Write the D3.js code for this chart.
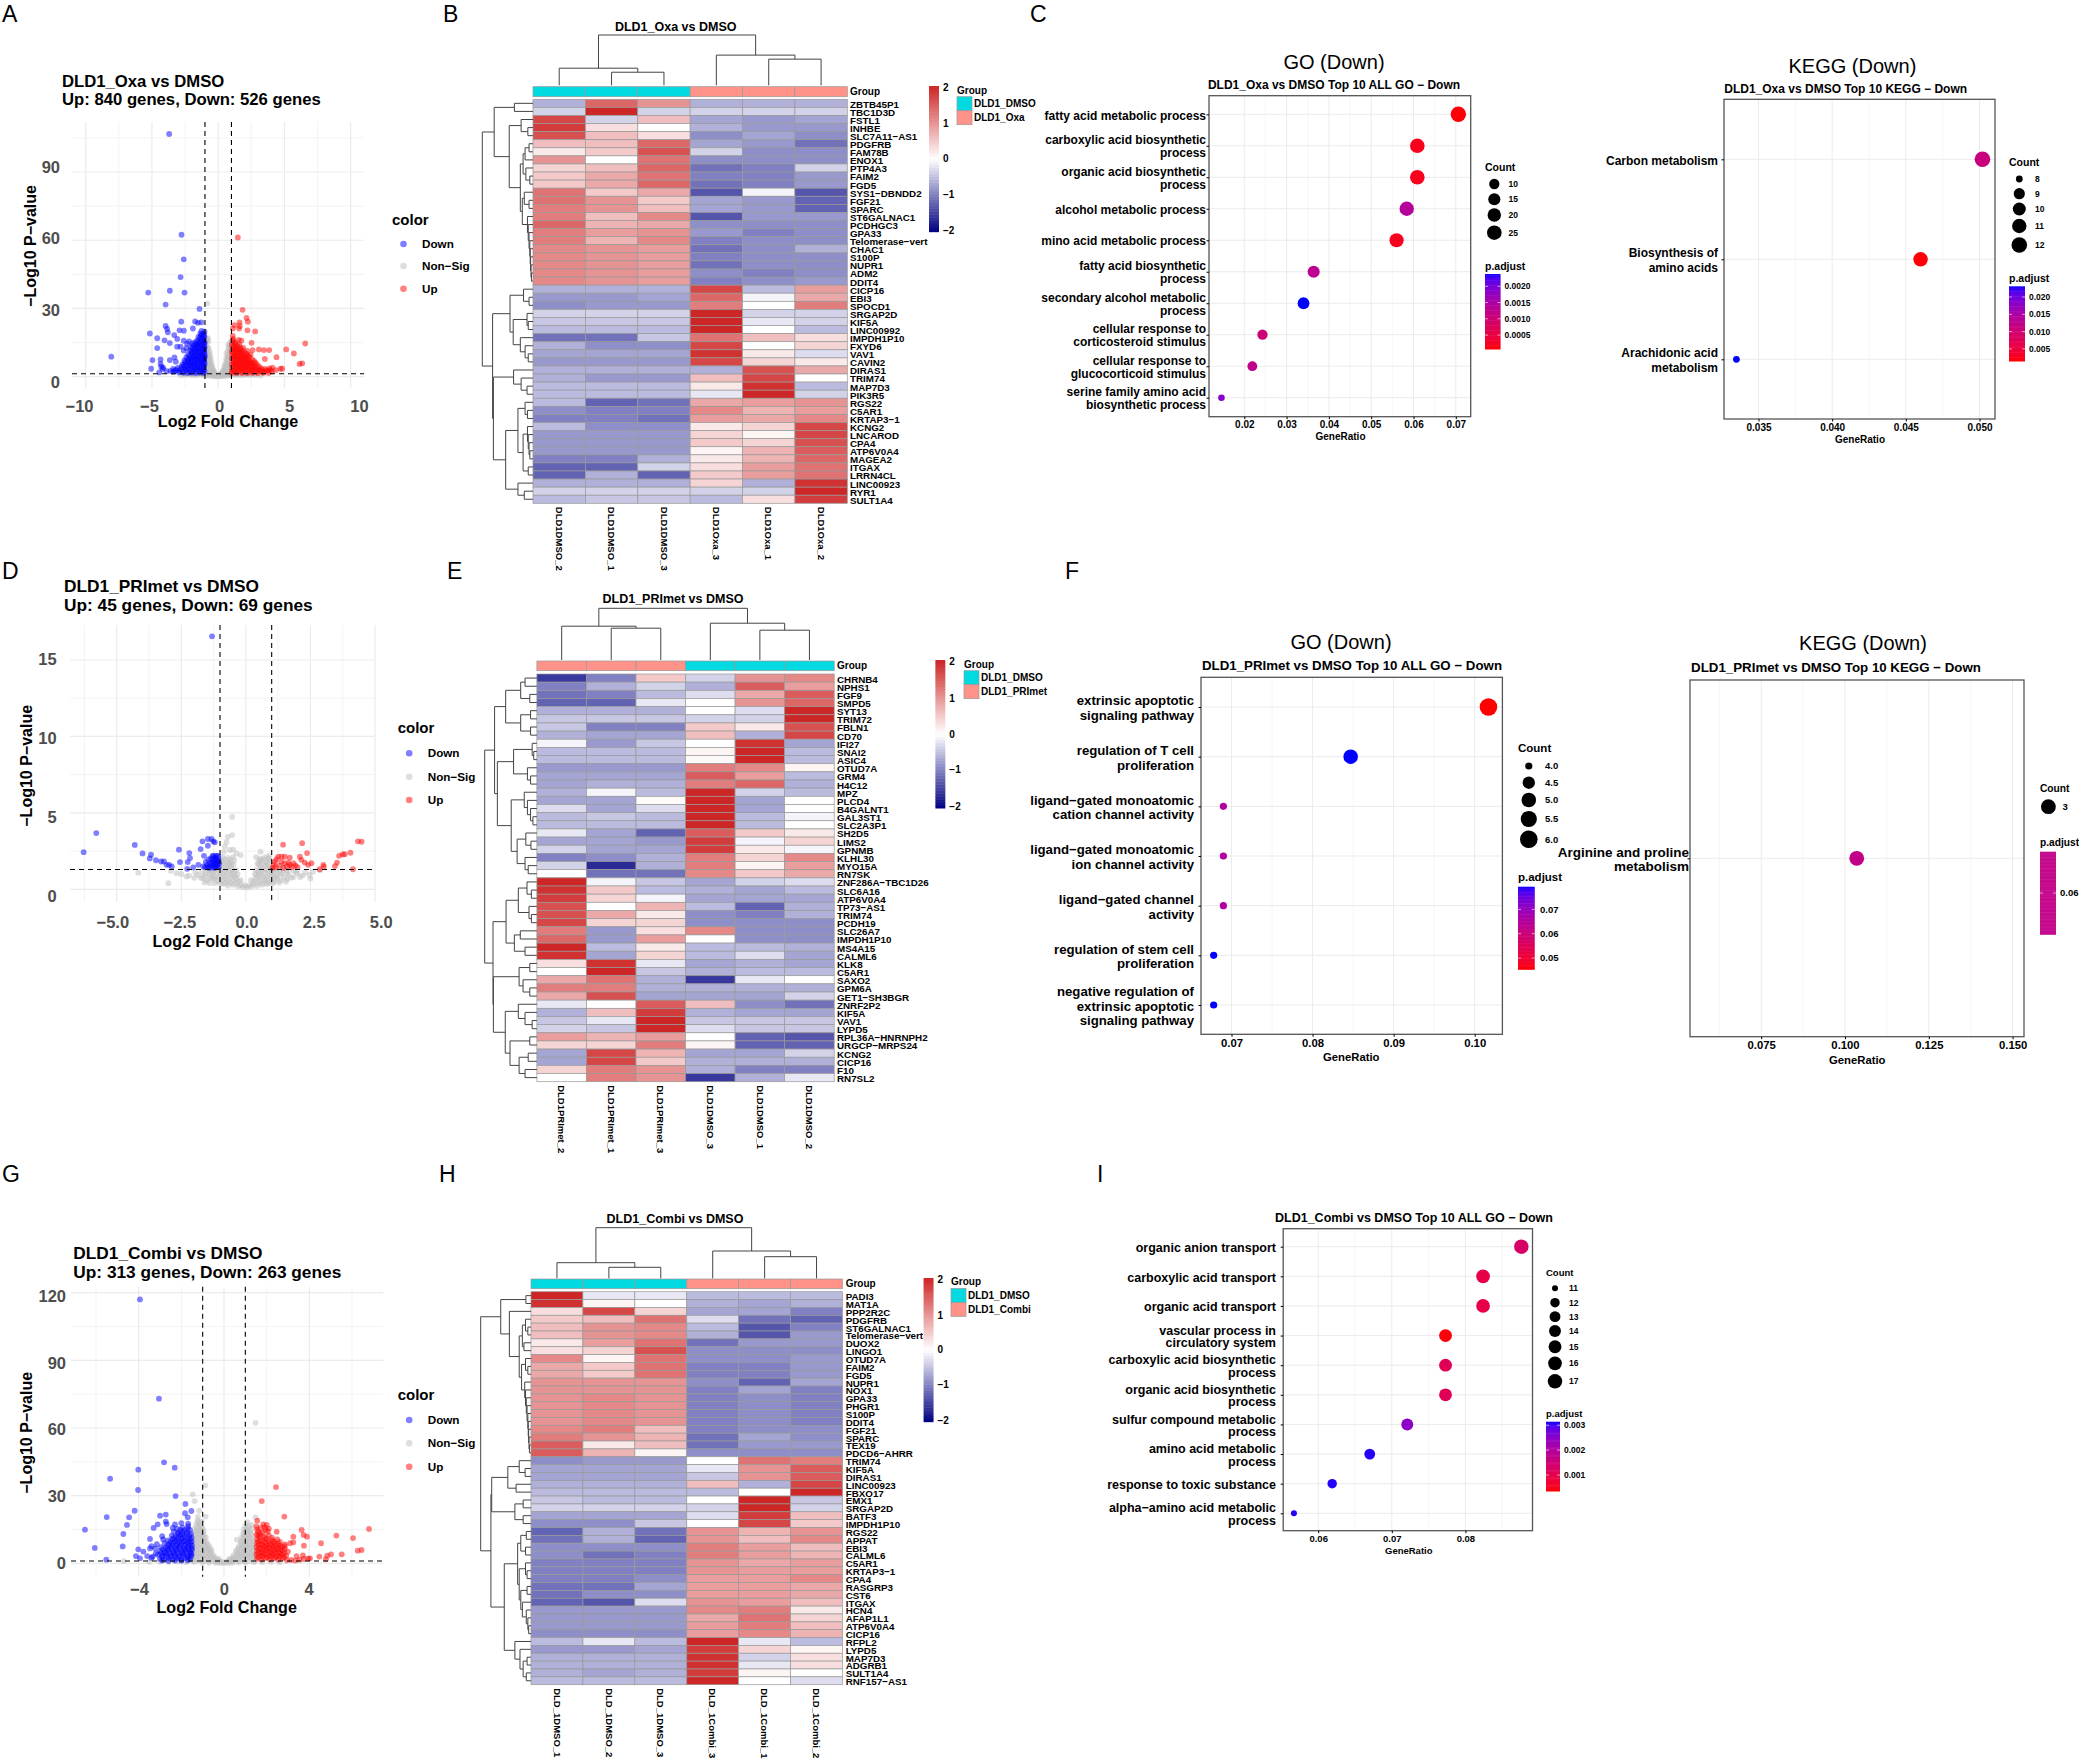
<!DOCTYPE html>
<html>
<head>
<meta charset="utf-8">
<script src="https://cdn.jsdelivr.net/npm/d3@7"></script>
<style>
  body { margin: 0; background: #fff; }
  svg { display: block; }
  text { font-family: "Liberation Sans", Arial, sans-serif; }
</style>
</head>
<body>
<svg id="fig" width="2079" height="1763"></svg>
<script>
// data: volcano points, [log2fc, -log10p]

const aDown = [[-3.7,106.7],[-2.77,62.4],[-2.6,51.6],[-2.84,43.8],[-5.28,37],[-3.65,37.8],[-2.54,37],[-3.97,31.7],[-1.41,29.8],[-2.79,24.2],[-3.97,22.3],[-3.85,21],[-3.8,19.5],[-1.74,24.3],[-1.53,23.7],[-1.28,23.9],[-1.91,21.2],[-2.92,20.4],[-2.59,20.2],[-1.26,20.1],[-5.16,19],[-3.32,18.3],[-4.6,16.9],[-3.09,16.6],[-4.05,16],[-3.65,14.8],[-2.6,15.8],[-4.6,12.6],[-3.1,13.2],[-2.84,13.2],[-8.07,8.8],[-4.96,7.3],[-4.35,7.6],[-3.65,7.3],[-3.3,8.5],[-3.2,6.6],[-4.35,5.6],[-5.06,3.5],
  [-4.2,3.4],[-4.3,4.4],[-4.15,4],[-3.9,2.4],[-3.6,2.6],[-3.4,2.1],[-3.3,2.5],[-4.45,1.9],
  [-3,2.6],[-2.72,2.2],[-2.44,2.9],[-2.18,2.1],[-1.92,2.7],[-1.68,2.3],[-1.42,2.8],[-1.18,2.2],[-1.03,2.6],
  [-3.05,3.9],[-2.78,4.3],[-2.52,4.1],[-2.27,3.8],[-2.02,4.4],[-1.77,3.9],[-1.53,4.2],[-1.28,3.8],[-1.06,4.3],
  [-2.7,5.4],[-2.42,5.9],[-2.15,5.3],[-1.9,5.8],[-1.65,5.4],[-1.4,5.9],[-1.17,5.3],[-1.02,5.7],
  [-2.55,7.2],[-2.28,6.8],[-2.03,7.3],[-1.78,6.9],[-1.52,7.3],[-1.27,6.8],[-1.05,7.2],
  [-2.4,8.6],[-2.13,8.2],[-1.88,8.7],[-1.63,8.3],[-1.38,8.8],[-1.15,8.3],[-1.02,8.7],
  [-2.25,9.9],[-2,10.3],[-1.75,9.8],[-1.5,10.2],[-1.25,9.8],[-1.04,10.3],
  [-2.12,11.6],[-1.87,11.2],[-1.62,11.7],[-1.37,11.2],[-1.13,11.6],
  [-2.05,13.1],[-1.78,12.8],[-1.53,13.2],[-1.27,12.8],[-1.03,13.1],
  [-1.95,14.6],[-1.67,14.3],[-1.42,14.7],[-1.18,14.3],[-1.02,14.8],
  [-1.58,15.9],[-1.33,16.3],[-1.1,15.9],[-1.5,17.5],[-1.25,17.9],[-1.05,17.4],[-1.35,19],[-1.12,18.9],[-1.03,19.8]];
const aDownCore = [[-2.85,3.2],[-2.6,3.4],[-2.35,3.1],[-2.1,3.3],[-1.85,3.1],[-1.6,3.4],[-1.35,3.2],[-1.12,3.1],
  [-2.6,4.9],[-2.35,4.7],[-2.1,5],[-1.85,4.7],[-1.6,4.9],[-1.35,4.6],[-1.1,4.9],
  [-2.5,6.4],[-2.25,6.2],[-2,6.5],[-1.75,6.2],[-1.5,6.5],[-1.25,6.1],[-1.08,6.5],
  [-2.3,7.9],[-2.05,7.7],[-1.8,8],[-1.55,7.7],[-1.3,7.9],[-1.08,7.6],
  [-2.15,9.3],[-1.9,9.1],[-1.65,9.4],[-1.4,9.1],[-1.17,9.4],[-1.02,9.2],
  [-2,10.9],[-1.75,10.7],[-1.5,11],[-1.25,10.6],[-1.05,11],
  [-1.95,12.4],[-1.7,12.2],[-1.45,12.5],[-1.2,12.2],[-1.04,12.3],
  [-1.85,13.8],[-1.6,13.6],[-1.35,13.9],[-1.1,13.6],
  [-1.75,15.2],[-1.5,15],[-1.25,15.3],[-1.05,15.2],[-1.4,16.9],[-1.15,16.8],[-1.25,18.4],[-1.05,18.3],
  [-3.4,3.4],[-3.2,3],[-2.95,1.8],[-2.6,1.7],[-2.3,1.6],[-2,1.7],[-1.7,1.6],[-1.4,1.7],[-1.1,1.6],
  [-2.6,11.5],[-2.4,12.5],[-2.35,14.5],[-2.2,15.5]];
const aUp = [[1.48,61.2],[1.84,29.4],[2.14,25.8],[2.24,24.2],[1.61,23.9],[1.23,22.7],[1.63,22.3],[1.11,21.2],[1.58,21.2],[2.21,20.4],[2.79,19.9],[1.1,17.9],[6.57,14.6],[5.13,12],[5.71,10.2],[6.14,5.6],[6.34,5.9],[4.4,8.6],[3.85,11.7],[3.07,12],[3.45,11.7],[2.52,14.9],[3.52,7.8],[4.83,3.5],[4.7,3.5],
  [1.03,2.4],[1.28,2.1],[1.55,2.6],[1.82,2.2],[2.08,2.7],[2.35,2.2],[2.62,2.6],[2.9,2.1],[3.18,2.5],[3.45,2.2],[3.75,2.6],[4.05,2.3],[4.35,2.9],
  [1.06,3.9],[1.32,3.6],[1.58,4.1],[1.85,3.7],[2.12,4.2],[2.38,3.7],[2.65,4],[2.92,3.6],[3.2,3.9],[3.5,3.4],[3.85,3.6],[4.1,4],
  [1.03,5.2],[1.3,5.6],[1.56,5.1],[1.83,5.6],[2.1,5.2],[2.36,5.7],[2.62,5.1],[2.9,5.5],
  [1.07,6.9],[1.33,6.5],[1.6,7],[1.87,6.6],[2.13,7.1],[2.4,6.6],[2.7,7],
  [1.03,8.2],[1.28,8.6],[1.55,8.1],[1.82,8.6],[2.08,8.2],[2.35,8.7],
  [1.06,9.9],[1.33,9.5],[1.6,10],[1.87,9.6],[2.13,10],[2.45,9.7],
  [1.03,11.2],[1.3,11.6],[1.57,11.1],[1.83,11.5],[2.2,11.3],[2.6,11.7],
  [1.07,12.9],[1.35,12.6],[1.62,13],[1.9,12.7],[1.04,14.2],[1.3,14.6],[1.6,14.2],[1.1,15.8],[1.55,16.2],[1.75,15.9]];
const aUpCore = [[1.15,3],[1.42,3],[1.7,3.1],[1.97,3],[2.25,3.1],[2.52,2.9],[2.78,3.1],[3.05,2.9],[3.3,3],[3.62,2.9],[3.95,3],
  [1.18,4.6],[1.45,4.5],[1.72,4.7],[1.98,4.5],[2.25,4.7],[2.5,4.5],[2.78,4.6],[3.05,4.6],
  [1.18,6.1],[1.45,6],[1.72,6.2],[1.98,6],[2.25,6.2],[2.52,6],[2.8,6.2],
  [1.18,7.6],[1.45,7.5],[1.72,7.7],[1.98,7.5],[2.25,7.7],[2.55,7.6],
  [1.18,9.1],[1.45,9],[1.72,9.2],[1.98,9],[2.25,9.2],
  [1.18,10.6],[1.45,10.5],[1.72,10.7],[2,10.6],[1.18,12],[1.45,12],[1.72,12.1],[1.18,13.6],[1.45,13.5],[1.25,15.2],[1.12,16.6],
  [1.03,1.6],[1.4,1.5],[1.8,1.6],[2.2,1.5],[2.6,1.6],[3,1.5],[3.4,1.6],[3.8,1.6]];
const aNon = [[-0.83,32.2],[-0.78,17],[-0.98,17],[-0.9,16],[-0.82,16.6],[-0.95,13.5],[-0.82,13],[-0.72,12.5],[-0.95,10.5],[-0.82,10],[-0.7,9.8],[-0.6,9],[-0.93,7.8],[-0.78,7.2],[-0.64,6.8],[-0.52,6],[-0.9,5],[-0.75,4.6],[-0.6,4.3],[-0.47,3.9],[-0.38,3.2],[-0.92,2.6],[-0.78,2.2],[-0.64,2.1],[-0.5,1.9],[-0.36,1.7],[-0.26,1.5],[-0.18,1],
  [-2.8,0.6],[-2.4,0.8],[-2,0.7],[-1.7,0.6],[-1.4,0.9],[-1.1,0.7],[-0.9,0.5],[-0.7,0.4],[-0.5,0.3],[-0.3,0.2],[-0.15,0.2],[0,0.1],[0.15,0.2],[0.3,0.3],[0.5,0.3],[0.7,0.5],[0.9,0.6],[1.1,0.7],[1.4,0.8],[1.7,0.7],[2,0.7],[2.4,0.8],[2.8,0.7],[3.2,0.5],
  [0.97,15.5],[0.9,14],[0.8,13],[0.95,11.5],[0.82,10.5],[0.7,9.5],[0.92,8.5],[0.78,7.8],[0.65,7],[0.55,6],[0.9,5.5],[0.76,5],[0.62,4.4],[0.5,3.9],[0.4,3],[0.93,2.8],[0.78,2.4],[0.64,2.1],[0.5,1.8],[0.36,1.6],[0.26,1.4],[0.18,0.9]];
const aNonCore = [[-0.88,15],[-0.75,15.5],[-0.88,12],[-0.76,11.4],[-0.64,10.8],[-0.88,9.2],[-0.76,8.6],[-0.65,8.2],[-0.55,7.4],[-0.84,6.4],[-0.7,5.8],[-0.58,5.4],[-0.46,4.8],[-0.84,3.8],[-0.7,3.4],[-0.56,3.2],[-0.42,2.6],[-0.3,2.3],[-0.84,1.5],[-0.7,1.2],[-0.56,1.1],[-0.42,1],[-0.3,0.9],[-0.88,1],[-1.1,1.1],
  [-2.6,1],[-2.2,1.1],[-1.9,1],[-1.6,1.1],[-1.3,1.2],[1.3,1.1],[1.6,1.1],[1.9,1],[2.2,1.1],[2.6,1],
  [0.88,14.8],[0.76,14],[0.86,12.2],[0.74,11.4],[0.62,10.4],[0.86,9.2],[0.72,8.6],[0.6,8],[0.84,6.4],[0.7,5.9],[0.58,5.2],[0.46,4.6],[0.84,3.9],[0.7,3.4],[0.56,3.1],[0.42,2.5],[0.3,2.2],[0.84,1.5],[0.7,1.2],[0.56,1.1],[0.42,1],[0.3,0.9],[0.9,1]];

const dDown = [[-1.31,16.55],[-5.79,3.68],[-6.28,2.43],[-4.3,2.9],[-4,2.35],[-3.67,2.26],[-3.72,2.02],[-3.48,1.9],[-3.28,1.82],[-3.17,1.82],[-3.07,1.6],[-2.97,1.6],[-2.87,1.49],[-2.59,2.59],[-2.55,1.78],[-2.19,2.37],[-2.16,2.04],[-2.25,1.78],[-2.27,1.34],[-2.04,1.43],[-1.84,1.6],[-1.75,2.63],[-1.68,3.14],[-1.47,3.29],[-1.33,3.29],[-1.26,3.14],[-1.2,3.07],[-1.47,2.85],[-1.62,2.19],[-1.26,2.2],[-1.16,2.2],[-1.07,2.2],
  [-1.65,1.5],[-1.55,1.8],[-1.48,1.45],[-1.4,1.7],[-1.35,2],[-1.3,1.45],[-1.25,1.75],[-1.2,2.05],[-1.17,1.5],[-1.12,1.8],[-1.08,2.1],[-1.05,1.45],[-1.03,1.7],[-1.45,1.95],[-1.58,1.45],[-1.22,1.4],[-1.1,1.6],[-1.38,1.55],[-1.28,1.9],[-1.15,1.95],
  [-1.5,1.6],[-1.42,1.4],[-1.33,1.75],[-1.27,1.55],[-1.18,1.65],[-1.13,1.45],[-1.06,1.9],[-1.3,2.15],[-1.2,1.85],[-1.1,1.75]];
const dUp = [[1.44,2.92],[2.18,3.02],[2.37,2.37],[4.34,3.14],[4.48,3.11],[4.05,2.39],[3.83,2.3],[3.75,2.28],[3.61,2.19],[3.53,1.75],[3.45,1.52],[4.15,1.31],[3.02,1.47],[3,1.6],[2.86,1.31],[2.54,1.71],[2.41,1.6],[2.28,1.75],[2.15,1.93],[2.09,2.13],[1.7,2.07],[1.51,2.13],[1.38,2.13],[1.25,2.13],
  [1.03,1.4],[1.08,1.6],[1.12,1.8],[1.18,1.95],[1.15,1.45],[1.3,1.55],[1.45,1.4],[1.5,1.7],[1.6,1.5],[1.7,1.6],[1.78,1.45],[1.85,1.7],[1.92,1.55],[2,1.45],[1.65,1.75],[1.38,1.8]];
const dNon = [[-0.53,4.74],[-0.53,3.55],[-0.7,3.43],[-0.75,3.1],[-0.81,2.8],[-0.85,2.45],[-0.62,2.57],[-0.49,2.6],[-0.36,2.35],[-0.2,2.24],[0.57,2.46],[0.9,2.19],[-3,0.4],[-4.16,1.09],[-2.68,1.05],[-2.3,0.83],[-2.2,0.9],[-2.5,1],[-2.9,1.2],[2.47,0.94],[2.6,1.15],[2.3,1.1],[2.5,0.7],[2.87,1.25],
  [-0.9,0.35],[-0.7,0.25],[-0.5,0.3],[-0.3,0.2],[-0.12,0.15],[0.05,0.12],[0.22,0.2],[0.42,0.22],[0.62,0.3],[0.82,0.35],[1.05,0.4],
  [-1.75,0.75],[-1.5,0.6],[-1.3,0.7],[-1.1,0.55],[-0.88,0.62],[-0.68,0.55],[-0.47,0.6],[-0.27,0.52],[0.3,0.5],[0.5,0.58],[0.7,0.6],[0.9,0.58],[1.12,0.7],[1.35,0.6],[1.6,0.65],[1.85,0.8],
  [-1.85,0.95],[-1.6,0.9],[-1.4,1],[-1.2,0.85],[-1,0.95],[-0.8,0.88],[-0.6,0.92],[-0.4,0.85],[0.42,0.88],[0.6,0.92],[0.8,0.85],[1,0.95],[1.2,0.9],[1.4,1],[1.65,0.95],[2,1.05],
  [-1.7,1.15],[-1.45,1.25],[-1.25,1.15],[-1.05,1.25],[-0.85,1.2],[-0.65,1.25],[-0.47,1.15],[0.48,1.15],[0.68,1.25],[0.88,1.2],[1.08,1.2],[1.3,1.2],[1.55,1.25],[1.85,1.2],
  [-0.95,1.55],[-0.75,1.5],[-0.58,1.55],[0.55,1.5],[0.75,1.55],[0.92,1.5],[-0.95,1.85],[-0.75,1.8],[-0.58,1.75],[0.45,1.7],[0.6,1.85],[0.8,1.8],[0.92,1.9],[-0.9,2.1],[-0.7,2.05],[-0.5,2.1],[0.4,2.1],[0.55,2],[0.75,2.1]];
const dNonCore = [[-1.6,0.45],[-1.4,0.42],[-1.2,0.4],[-1,0.42],[-0.8,0.4],[-0.6,0.42],[-0.4,0.38],[-0.2,0.3],[-0.05,0.25],[0.12,0.25],[0.3,0.35],[0.5,0.4],[0.7,0.42],[0.9,0.42],[1.1,0.5],[1.3,0.45],[1.55,0.5],
  [-2,0.75],[-1.65,0.72],[-1.4,0.75],[-1.2,0.72],[-1,0.75],[-0.78,0.72],[-0.58,0.76],[-0.38,0.7],[-0.2,0.6],[0.2,0.6],[0.38,0.72],[0.58,0.75],[0.78,0.72],[1,0.76],[1.22,0.75],[1.48,0.78],[1.75,0.75],[2.1,0.8],
  [-1.95,1.1],[-1.55,1.05],[-1.3,1.02],[-1.1,1.08],[-0.9,1.04],[-0.7,1.06],[-0.5,1],[-0.32,0.98],[0.35,1],[0.52,1.02],[0.72,1.05],[0.92,1.03],[1.12,1.05],[1.35,1.06],[1.6,1.1],[1.95,1.15],[2.2,0.9],
  [-1.55,1.38],[-1.35,1.32],[-1.15,1.36],[-0.95,1.33],[-0.75,1.35],[-0.55,1.32],[-0.38,1.25],[0.4,1.25],[0.6,1.35],[0.8,1.33],[0.98,1.35],[1.2,1.33],[1.45,1.38],[1.7,1.35],
  [-0.85,1.66],[-0.65,1.65],[-0.48,1.62],[0.5,1.62],[0.68,1.66],[0.85,1.68],[-0.85,1.96],[-0.62,1.92],[-0.45,1.9],[0.52,1.88],[0.68,1.98],[0.88,2.02]];

const gDown = [[-3.94,117],[-3.05,73],[-2.81,44.8],[-2.31,42.4],[-4.02,41.5],[-5.34,37.5],[-4.03,32.5],[-2.27,29.8],[-1.81,26.3],[-1.53,23.2],[-4.19,23.3],[-5.5,20.5],[-4.45,20.4],[-3,21.1],[-2.73,21.6],[-1.83,22.2],[-1.7,20.4],[-4.55,17],[-3.11,17.3],[-3.3,15.7],[-2.73,18.5],[-2.69,17.4],[-6.52,14.9],[-4.72,13],[-3.47,10.8],[-4.75,7.5],[-6.06,6.8],[-5.52,1.6],[-4.02,6.2],[-4.13,3.2],[-3.78,5.2],[-3.47,6.6],[-3.23,6.6],[-3.94,2.2],[-3.6,3.2],[-3.4,2.4],
  [-3,2],[-2.8,1.6],[-2.6,2.3],[-2.4,1.7],[-2.2,2.2],[-2,1.6],[-1.8,2.3],[-1.6,1.8],
  [-3.1,3.8],[-2.9,3.4],[-2.7,4],[-2.5,3.5],[-2.3,3.9],[-2.1,3.4],[-1.9,4],[-1.7,3.5],[-1.52,3.9],
  [-3,5.5],[-2.8,5.1],[-2.6,5.7],[-2.4,5.2],[-2.2,5.6],[-2,5.1],[-1.8,5.7],[-1.6,5.2],
  [-2.95,7.2],[-2.72,6.8],[-2.5,7.3],[-2.3,6.9],[-2.1,7.3],[-1.9,6.8],[-1.7,7.2],[-1.52,6.8],
  [-2.78,8.9],[-2.58,8.5],[-2.38,9],[-2.18,8.6],[-1.98,9],[-1.78,8.6],[-1.58,8.9],
  [-2.85,10.6],[-2.62,10.2],[-2.42,10.7],[-2.22,10.3],[-2,10.6],[-1.8,10.2],[-1.6,10.7],
  [-2.45,12.3],[-2.25,11.9],[-2.05,12.4],[-1.85,12],[-1.62,12.2],[-2.35,14],[-2.15,13.6],[-1.95,14.1],[-1.72,13.7],
  [-2.4,15.7],[-2.2,15.3],[-1.95,15.8],[-1.7,15.4],[-1.68,16.5],[-2.3,17.2],[-2,17.8],[-1.68,17.6]];
const gDownCore = [[-2.9,2.8],[-2.7,2.9],[-2.5,2.8],[-2.3,2.9],[-2.1,2.7],[-1.9,2.9],[-1.7,2.7],[-1.55,2.9],
  [-2.95,4.6],[-2.75,4.5],[-2.55,4.7],[-2.35,4.5],[-2.15,4.6],[-1.95,4.5],[-1.75,4.7],[-1.55,4.5],
  [-2.85,6.3],[-2.65,6.2],[-2.45,6.4],[-2.25,6.2],[-2.05,6.3],[-1.85,6.2],[-1.65,6.3],[-1.5,6.1],
  [-2.65,7.9],[-2.45,8],[-2.25,7.9],[-2.05,8],[-1.85,7.9],[-1.65,8],[-1.5,7.9],
  [-2.5,9.6],[-2.3,9.7],[-2.1,9.6],[-1.9,9.8],[-1.7,9.6],[-1.52,9.7],
  [-2.35,11.3],[-2.15,11.2],[-1.95,11.4],[-1.72,11.2],[-1.52,11.3],
  [-2.15,13],[-1.95,12.9],[-1.75,13],[-1.55,13],[-2.05,14.8],[-1.85,14.7],[-1.6,14.8],[-3.4,7.6],[-3.2,4.4],[-3.35,2.9],[-3.15,8.5],[-2.9,12],
  [-2.9,1.2],[-2.6,1.1],[-2.3,1.2],[-2,1.1],[-1.7,1.2]];
const gUp = [[2.44,33.8],[1.77,27.6],[2.83,20.7],[1.56,18.9],[6.8,15.2],[5.27,12.3],[6.05,11.2],[3.64,14.8],[3.73,12.6],[3.89,11.8],[3.25,11.8],[3.25,9.3],[4.55,8.9],[3.75,7.8],[6.27,5.6],[6.45,5.9],[5.52,4],[5.02,4],[4.84,3.4],[4.78,1.8],[4.47,3],[4.03,2.2],[2.47,14],[1.84,17.3],[2,17],
  [1.55,2],[1.75,1.6],[1.95,2.3],[2.15,1.7],[2.35,2.2],[2.55,1.6],[2.75,2.2],[2.95,1.3],[3.15,1.5],[3.35,1.2],[3.55,1.6],[3.75,1.9],[3.95,2.1],
  [1.52,3.8],[1.72,3.4],[1.92,4],[2.12,3.5],[2.32,3.9],[2.52,3.4],[2.72,3.9],[2.92,3.4],[3.4,3.2],[3.7,3.5],
  [1.55,5.5],[1.75,5.1],[1.95,5.7],[2.15,5.2],[2.35,5.6],[2.55,5.1],[2.75,5.7],[3,5.2],
  [1.52,7.2],[1.72,6.8],[1.92,7.3],[2.12,6.9],[2.32,7.3],[2.52,6.8],[2.72,7.2],
  [1.55,8.9],[1.75,8.5],[1.95,9],[2.15,8.6],[2.35,9],[2.55,8.6],[2.85,8.4],[3.1,8.9],
  [1.55,10.6],[1.75,10.2],[2,10.7],[2.25,10.3],[2.5,10.6],[1.6,12.3],[1.85,11.9],[2.1,12.4],[1.6,14],[1.8,13.6],[2.05,14.1],[1.72,15.6],[1.9,16],[2.1,15.4]];
const gUpCore = [[1.62,2.8],[1.82,2.9],[2.02,2.7],[2.22,2.9],[2.42,2.7],[2.62,2.9],[2.82,2.7],
  [1.62,4.6],[1.82,4.5],[2.02,4.7],[2.22,4.5],[2.42,4.6],[2.62,4.5],[2.82,4.6],
  [1.62,6.3],[1.82,6.2],[2.02,6.4],[2.22,6.2],[2.42,6.3],[2.62,6.2],[2.85,6.4],
  [1.62,8],[1.82,7.9],[2.02,8],[2.22,7.9],[2.42,8],[2.62,7.8],[2.85,7.6],
  [1.62,9.7],[1.85,9.6],[2.1,9.7],[2.35,9.6],[2.62,9.5],[1.68,11.4],[1.95,11.3],[2.25,11.4],[1.52,12.6],[1.7,13],[1.55,15],[1.95,14.8],[1.52,16.4]];
const gNon = [[1.48,62.3],[-0.88,34.6],[-1.47,30.6],[-1.38,27.6],[-1.16,23.3],[-1.22,20.7],[-0.86,20.7],[1.09,18.3],[1.48,20.4],[-4.7,1],[1,16.5],
  [-1.5,2.4],[-1.3,2],[-1.1,2.5],[-0.9,2],[-0.7,2.3],[-0.5,1.8],[-0.33,1.6],[-0.2,1.2],[-0.1,0.6],
  [-1.48,4.2],[-1.28,3.9],[-1.08,4.3],[-0.88,3.9],[-0.68,4.1],[-0.5,3.6],[-1.5,6],[-1.3,5.8],[-1.1,6.2],[-0.9,5.7],[-0.72,5.9],[-0.58,5.6],
  [-1.45,8],[-1.25,7.7],[-1.05,8.1],[-0.87,7.6],[-0.7,7.7],[-1.42,9.9],[-1.22,9.6],[-1.02,10],[-0.85,9.6],[-1.4,11.8],[-1.2,11.5],[-1,11.9],[-0.85,11.5],
  [-1.4,13.6],[-1.2,13.3],[-1.02,13.8],[-1.38,15.4],[-1.2,15.2],[-1.02,15.6],[-1.3,17.3],[-1.12,17.1],[-1.25,19],[-1.05,18.6],
  [0.1,0.6],[0.2,1.2],[0.33,1.6],[0.5,1.8],[0.7,2.3],[0.9,2],[1.1,2.5],[1.3,2],[1.48,2.4],[0.45,3.5],[0.65,4],[0.85,3.8],[1.05,4.2],[1.25,3.9],[1.45,4.2],
  [0.55,5.5],[0.75,5.9],[0.95,5.6],[1.15,6],[1.35,5.7],[0.7,7.6],[0.9,8],[1.1,7.7],[1.32,8],[0.78,9.6],[1,10],[1.2,9.7],[1.38,10],[0.6,10.5],[0.82,11.5],[1,11.9],[1.2,11.5],
  [0.9,13.4],[1.08,13.8],[1.25,13.4],[0.92,15],[1.1,15.5],[1.3,15.2],
  [-3.5,0.6],[-3,0.7],[-2.6,0.5],[-2.2,0.7],[-1.8,0.5],[-1.4,0.6],[-1,0.4],[-0.7,0.3],[-0.4,0.2],[-0.2,0.15],[0,0.1],[0.2,0.15],[0.4,0.2],[0.7,0.3],[1,0.4],[1.4,0.5],[1.8,0.5],[2.2,0.6],[2.6,0.4]];
const gNonCore = [[-1.4,3.1],[-1.2,3],[-1,3.2],[-0.8,3],[-0.6,2.9],[-0.42,2.6],[-0.25,2],
  [-1.4,5],[-1.2,4.8],[-1,5.1],[-0.8,4.8],[-0.62,4.8],[-1.38,7],[-1.18,6.8],[-0.98,7],[-0.8,6.8],[-0.64,6.6],
  [-1.35,8.9],[-1.15,8.7],[-0.95,8.9],[-0.78,8.7],[-1.32,10.8],[-1.12,10.7],[-0.93,10.8],
  [-1.32,12.7],[-1.12,12.6],[-0.94,12.7],[-1.3,14.5],[-1.1,14.4],[-0.95,14.6],[-1.25,16.4],[-1.05,16.3],[-1.2,18.2],
  [-1.45,1.2],[-1.2,1.1],[-0.95,1.1],[-0.7,1.1],[-0.45,0.9],[-0.28,0.7],
  [0.28,0.7],[0.45,0.9],[0.7,1.1],[0.95,1.1],[1.2,1.1],[1.45,1.2],
  [0.25,2],[0.42,2.6],[0.6,2.9],[0.8,3],[1,3.2],[1.2,3],[1.4,3.1],
  [0.6,4.7],[0.8,4.8],[1,5],[1.2,4.8],[1.4,5],[0.65,6.5],[0.82,6.8],[1,7],[1.2,6.8],[1.4,7],
  [0.8,8.8],[1,8.9],[1.2,8.7],[1.4,8.9],[0.9,10.8],[1.1,10.7],[1.3,10.8],[0.95,12.6],[1.12,12.7],[1.3,12.5],[1.02,14.4],[1.2,14.4],[1.15,16.5],[1.3,17]];

// data: heatmaps

const bGenes = ['ZBTB45P1','TBC1D3D','FSTL1','INHBE','SLC7A11-AS1','PDGFRB','FAM78B','ENOX1','PTP4A3','FAIM2','FGD5','SYS1-DBNDD2','FGF21','SPARC','ST6GALNAC1','PCDHGC3','GPA33','Telomerase-vert','CHAC1','S100P','NUPR1','ADM2','DDIT4','CICP16','EBI3','SPOCD1','SRGAP2D','KIF5A','LINC00992','IMPDH1P10','FXYD6','VAV1','CAVIN2','DIRAS1','TRIM74','MAP7D3','PIK3R5','RGS22','C5AR1','KRTAP3-1','KCNG2','LNCAROD','CPA4','ATP6V0A4','MAGEA2','ITGAX','LRRN4CL','LINC00923','RYR1','SULT1A4'];
const bSamples = ['DLD1DMSO_2','DLD1DMSO_1','DLD1DMSO_3','DLD1Oxa_3','DLD1Oxa_1','DLD1Oxa_2'];
const bValues = [[-0.7,1.4,1,-0.7,-0.7,-0.7],[-0.4,2,-0.4,-0.4,-0.4,-0.4],[1.7,-0.4,0.6,-0.8,-0.9,-0.8],[1.8,0.3,0,-0.7,-0.9,-0.9],[1.6,0.6,0.3,-1,-0.8,-1],[0.6,0.6,1.4,-0.8,-0.9,-1.2],[0.2,0.5,1.6,-0.4,-1,-1],[1,0,1.3,-1,-1,-1],[0.4,0.6,1.4,-1.2,-1.1,-0.4],[0.5,0.8,1.3,-1.1,-1.1,-0.9],[0.5,0.8,1.4,-1.2,-1.1,-0.9],[1.3,0.5,0.8,-1.4,-0.1,-1.4],[1.3,1,0.5,-0.8,-0.9,-1.3],[1.2,1,0.6,-0.8,-0.9,-1.3],[1.2,0.6,1.1,-1.4,-0.9,-0.9],[1.4,0.7,0.8,-1,-1,-1],[1.2,0.9,1,-0.9,-1.1,-1],[1.2,0.7,1.1,-1.1,-1,-1],[1.1,1,0.9,-1.2,-1,-0.7],[1.1,1,0.9,-1.1,-1,-1],[1.1,1,0.9,-1.2,-1,-1],[1.1,1,0.9,-1,-1.1,-1],[1.1,1,0.9,-1.1,-1,-0.9],[-0.7,-0.7,-0.7,1.7,-0.6,0.9],[-0.9,-0.9,-0.8,1.4,-0.1,0.8],[-1,-0.9,-0.9,1.2,0,1.2],[-0.4,-0.4,-0.4,2,-0.4,-0.4],[-0.5,-0.5,-0.5,2,-0.2,-0.4],[-0.6,-0.6,-0.6,2,0,-0.6],[-1.2,-1.2,-0.5,1.3,0.6,0.3],[-0.7,-1,-1,1.7,0,0.4],[-0.8,-0.8,-0.8,1.9,0.2,-0.3],[-0.9,-0.9,-0.9,1.7,0.4,0.2],[-0.7,-0.7,-0.7,-0.7,1.6,0.8],[-0.7,-0.9,-0.9,0.6,1.7,0],[-0.6,-0.6,-0.6,0.2,1.9,-0.6],[-0.6,-0.6,-0.6,-0.2,2,-0.4],[-0.6,-1.3,-1.2,0.8,0.9,1],[-1,-1.1,-1.1,1.1,0.7,0.9],[-1.1,-1.1,-1.2,0.9,0.8,1.1],[-0.6,-1,-1,0.2,0.4,1.7],[-0.9,-0.9,-0.9,0.4,0.1,1.7],[-0.9,-0.9,-0.9,0.5,0.4,1.6],[-0.9,-0.9,-0.9,0.1,0.7,1.5],[-1.1,-1.1,-0.7,0.2,0.7,1.4],[-1.3,-1.3,-0.4,0.3,0.9,1.3],[-1.3,-0.7,-1.3,0.5,0.9,1.3],[-0.7,-0.7,-0.7,0.4,-0.7,1.9],[-0.4,-0.4,-0.4,-0.4,-0.4,2],[-0.6,-0.5,-0.5,-0.6,0.3,1.8]];
const bGroups = ['DLD1_DMSO','DLD1_DMSO','DLD1_DMSO','DLD1_Oxa','DLD1_Oxa','DLD1_Oxa'];
const bColTree = [50,[17,0,[13,0,0]],[30,0,[26,0,0]]];
const bRowTree = [128,[98,[47,0,0],[60,[30,0,[13,0,0]],[32,[25,[20,[10,0,0],0],[18,0,[8,0,0]]],[27,[22,0,[10,0,0]],[14,0,[12,0,[10,0,[8,0,[7,0,[6,0,[5,0,[4,0,0]]]]]]]]]]]],
  [102,[58,[24,0,[10,0,0]],[50,[15,0,[12,0,0]],[32,0,[20,0,[12,0,0]]]]],[100,[49,0,[30,0,[15,0,0]]],[69,[38,[20,0,[14,0,0]],[25,[14,0,[12,0,[10,0,[8,0,0]]]],[12,0,0]]],[38,0,[22,0,0]]]]]];

const eGenes = ['CHRNB4','NPHS1','FGF9','SMPD5','SYT13','TRIM72','FBLN1','CD70','IFI27','SNAI2','ASIC4','OTUD7A','GRM4','H4C12','MPZ','PLCD4','B4GALNT1','GAL3ST1','SLC2A3P1','SH2D5','LIMS2','GPNMB','KLHL30','MYO15A','RN7SK','ZNF286A-TBC1D26','SLC6A16','ATP6V0A4','TP73-AS1','TRIM74','PCDH19','SLC26A7','IMPDH1P10','MS4A15','CALML6','KLK8','C5AR1','SAXO2','GPM6A','GET1-SH3BGR','ZNRF2P2','KIF5A','VAV1','LYPD5','RPL36A-HNRNPH2','URGCP-MRPS24','KCNG2','CICP16','F10','RN7SL2'];
const eSamples = ['DLD1PRImet_2','DLD1PRImet_1','DLD1PRImet_3','DLD1DMSO_3','DLD1DMSO_1','DLD1DMSO_2'];
const eValues = [[-1.6,-1.1,0.5,-0.4,1,1.1],[-1.1,-0.7,-0.4,-0.7,1.5,0.9],[-1.2,-1.1,-0.6,-0.3,0.8,1.5],[-1.3,-1.3,-0.2,0,1,1.4],[-0.7,-0.7,-0.7,0,-0.3,2],[-0.5,-0.5,-0.5,-0.4,-0.4,2],[-0.5,-1.1,-1.1,0.5,0.2,1.6],[-0.7,-0.8,-0.8,0.6,-0.7,1.7],[-0.1,-0.9,-0.5,0,1.9,-0.8],[-0.6,-0.6,-0.6,0.1,2,-0.6],[-0.6,-0.6,-0.6,0.05,2,-0.6],[-0.9,-0.9,-0.9,1.2,1.1,0.1],[-0.8,-0.8,-0.8,1.5,0.9,-0.6],[-0.8,-0.7,-0.7,1.2,1.4,-0.7],[-0.7,-0.1,-0.6,2,-0.4,-0.6],[-0.8,-0.8,0.05,2,-0.8,0],[-0.3,-0.8,-0.3,2,-0.8,0],[-0.6,-0.5,-0.6,2,-0.6,-0.1],[-0.6,-0.6,-0.6,2,-0.6,0],[-0.2,-0.8,-1.3,1.5,0.5,0.2],[-0.8,-0.8,-0.9,1.8,-0.1,0.4],[-0.4,-0.8,-0.8,1.8,0.2,-0.1],[-1.1,-1,-0.7,1.2,0.4,1.1],[-0.4,-1.7,-0.7,1.2,0.1,0.9],[0,-1.2,-1.2,1.1,0.5,0.8],[2,-0.1,-0.5,-0.8,-0.4,-0.3],[1.9,0.5,-0.6,-0.7,-0.8,-0.6],[1.8,0.4,-0.1,-0.8,-0.8,-0.8],[1.6,0,0.7,-0.6,-1.3,-0.7],[1.6,0.8,0.2,-1,-1.1,-0.7],[1.7,0.4,0.4,-1,-1,-1],[1.2,-0.9,0.3,1.1,-1,-1],[1.4,-0.9,0.9,0,-1,-1],[2,-0.6,0.2,-0.6,-0.6,-0.7],[1.9,-0.8,0.4,-0.6,-0.3,-0.8],[0.3,1.9,-0.2,-0.8,-0.7,-0.8],[0,2,-0.5,-0.7,-0.6,-0.6],[0.8,1.3,-0.7,-1.6,-0.2,0],[1.2,1.2,-0.7,-0.7,-0.7,-0.7],[0.8,1.6,-0.8,-0.8,-0.8,-0.4],[-0.2,0,1.5,0.6,-1,-1.2],[-0.7,0.6,1.8,-0.7,-0.8,-0.8],[-0.5,-0.2,2,-0.5,-0.5,-0.5],[-0.4,-0.5,2,-0.3,-0.5,-0.5],[0.9,0.7,0.9,0,-1.3,-1.4],[0.4,0.4,1.2,0.1,-1.3,-1.3],[-0.8,1.7,0.7,-0.8,-0.8,-0.4],[-0.8,1.7,0.5,-0.7,-0.7,-0.7],[0.4,1.2,1,-0.7,-1.1,-1.1],[0,1.2,1,-1.6,-0.7,-0.2]];
const eGroups = ['DLD1_PRImet','DLD1_PRImet','DLD1_PRImet','DLD1_DMSO','DLD1_DMSO','DLD1_DMSO'];
const eColTree = [52,[34,0,[32,0,0]],[37,0,[30,0,0]]];
const eRowTree = [132,[107,[79,[41,[30,0,0],[18,0,0]],[41,[16,0,0],[16,0,0]]],[100,[59,[12,0,[8,0,0]],[24,0,[16,0,0]]],[65,[32,0,[24,0,[16,0,[10,0,0]]]],[50,[28,0,[15,0,0]],[30,0,[22,0,0]]]]]],
  [111,[78,[47,[25,0,[14,0,0]],[20,0,[14,0,0]]],[57,[42,0,0],[30,0,0]]],[110,[45,[18,0,0],[35,0,[18,0,0]]],[80,[47,0,[30,0,[12,0,0]]],[68,[18,0,0],[45,[22,0,0],[30,0,0]]]]]]];

const hGenes = ['PADI3','MAT1A','PPP2R2C','PDGFRB','ST6GALNAC1','Telomerase-vert','DUOX2','LINGO1','OTUD7A','FAIM2','FGD5','NUPR1','NOX1','GPA33','PHGR1','S100P','DDIT4','FGF21','SPARC','TEX19','PDCD6-AHRR','TRIM74','KIF5A','DIRAS1','LINC00923','FBXO17','EMX1','SRGAP2D','BATF3','IMPDH1P10','RGS22','APPAT','EBI3','CALML6','C5AR1','KRTAP3-1','CPA4','RASGRP3','CST6','ITGAX','HCN4','AFAP1L1','ATP6V0A4','CICP16','RFPL2','LYPD5','MAP7D3','ADGRB1','SULT1A4','RNF157-AS1'];
const hSamples = ['DLD_1DMSO_1','DLD_1DMSO_2','DLD_1DMSO_3','DLD_1Combi_3','DLD_1Combi_1','DLD_1Combi_2'];
const hValues = [[2,-0.2,-0.2,-0.6,-0.6,-0.6],[1.9,0.1,0,-0.7,-0.8,-0.7],[0.3,1.7,0.4,-0.8,-0.8,-1.1],[0.5,0.6,1.3,-0.3,-1.2,-1.3],[0.6,1,1.1,-0.6,-1.4,-1.1],[0.6,1,1.1,-0.7,-1.4,-0.9],[0.2,0.9,1.3,-1.2,-0.9,-0.9],[0.3,0.4,1.6,-1,-1,-1],[1.1,0.1,1.3,-1,-1,-0.9],[0.8,0.5,1.3,-1.1,-1.1,-0.9],[0.8,0.5,1.3,-1.1,-1.1,-0.9],[1,1,1,-1,-1.3,-0.8],[1,1,1,-1.1,-0.8,-1.1],[1,1.1,1,-1.1,-1,-1.1],[1,1.1,1,-1.1,-1,-1.1],[1,1.1,1,-1.1,-1,-1.1],[1,1.1,1,-1.1,-1,-1.1],[1.1,1.2,0.6,-1.1,-1,-1],[1.2,1,0.7,-1.2,-0.8,-1],[1.5,0.2,0.6,-1.2,-0.9,-0.9],[1.5,0.7,0.1,-1,-1,-1],[-1,-0.9,-0.9,0,1.3,1.2],[-0.8,-0.8,-0.8,-0.2,1,1.5],[-0.8,-0.8,-0.8,-0.5,1,1.5],[-0.7,-0.7,-0.7,0.6,-0.7,1.7],[-0.6,-0.6,-0.6,-0.6,0,2],[-0.5,-0.6,-0.6,0,2,-0.5],[-0.4,-0.4,-0.4,-0.4,2,-0.4],[-0.8,-0.8,-0.8,-0.3,1.8,0.6],[-1,-1,-0.5,0,1.7,0.5],[-1.3,-0.7,-1.2,1,0.7,1],[-1.2,-0.7,-1.3,1,0.6,1.1],[-1,-1,-1,1.2,0.9,0.6],[-1,-1.2,-1.1,1.2,0.9,0.7],[-1.1,-1.1,-1.1,1,0.8,0.9],[-1.1,-1.1,-1.1,1,0.9,0.9],[-1.1,-1.1,-1,0.9,0.9,1.1],[-1.2,-1.2,-0.8,0.9,0.9,0.8],[-1.2,-1,-1,0.9,0.9,0.8],[-1.3,-1.4,-0.3,1,0.9,0.6],[-0.9,-0.9,-0.9,1.1,1.2,0.2],[-0.9,-0.9,-0.9,0.8,1.3,0.4],[-0.9,-0.9,-0.9,0.9,1.2,0.6],[-1,-1,-1,0.9,1.1,0.7],[-0.6,-0.2,-0.6,2,-0.2,-0.6],[-0.9,-0.9,-0.8,1.8,0.4,0.1],[-0.7,-0.7,-0.7,1.9,-0.4,0.3],[-0.7,-0.7,-0.7,1.9,-0.2,0.3],[-0.7,-0.8,-0.7,1.8,0.1,0],[-0.6,-0.6,-0.6,2,0,-0.3]];
const hGroups = ['DLD1_DMSO','DLD1_DMSO','DLD1_DMSO','DLD1_Combi','DLD1_Combi','DLD1_Combi'];
const hColTree = [50.6,[15.6,0,[11,0,0]],[27.3,0,[21.6,0,0]]];
const hRowTree = [128,[77,[13,0,0],[55,0,[30,[22,[14,0,[8,0,0]],[18,0,0]],[24,[14,0,[8,0,0]],[16,0,[14,0,[12,0,[10,0,[8,0,[7,0,[6,0,[5,0,[4,0,0]]]]]]]]]]]]],
  [102,[100,[59,[30,0,[15,0,0]],[38,0,0]],[41,[20,0,0],[20,0,0]]],[68,[34,[26,[12,0,0],[14,0,0]],[30,[14,0,[10,0,0]],[26,[10,0,0],[22,0,[12,0,[8,0,[6,0,0]]]]]]],[41,0,[28,0,[20,[10,0,0],[12,0,0]]]]]]];

// data: enrichment dot plots

const cGoTerms = ['fatty acid metabolic process','carboxylic acid biosynthetic\nprocess','organic acid biosynthetic\nprocess','alcohol metabolic process','mino acid metabolic process','fatty acid biosynthetic\nprocess','secondary alcohol metabolic\nprocess','cellular response to\ncorticosteroid stimulus','cellular response to\nglucocorticoid stimulus','serine family amino acid\nbiosynthetic process'];
const cGoRatio = [0.0706,0.0609,0.0609,0.0584,0.056,0.0364,0.034,0.0243,0.0219,0.0146];
const cGoCount = [29,25,25,24,23,15,14,10,9,6];
const cGoPadj = [0.0001,0.0002,0.0002,0.0014,0.0002,0.0013,0.00238,0.00104,0.00127,0.00187];
const cKeggTerms = ['Carbon metabolism','Biosynthesis of\namino acids','Arachidonic acid\nmetabolism'];
const cKeggRatio = [0.0502,0.046,0.0335];
const cKeggCount = [12,11,8];
const cKeggPadj = [0.0112,0.0018,0.0231];

const fGoTerms = ['extrinsic apoptotic\nsignaling pathway','regulation of T cell\nproliferation','ligand-gated monoatomic\ncation channel activity','ligand-gated monoatomic\nion channel activity','ligand-gated channel\nactivity','regulation of stem cell\nproliferation','negative regulation of\nextrinsic apoptotic\nsignaling pathway'];
const fGoRatio = [0.1017,0.0847,0.069,0.069,0.069,0.0678,0.0678];
const fGoCount = [6,5,4,4,4,4,4];
const fGoPadj = [0.0454,0.0793,0.0657,0.0657,0.0657,0.0793,0.0793];
const fKeggTerms = ['Arginine and proline\nmetabolism'];
const fKeggRatio = [0.1035];
const fKeggCount = [3];
const fKeggPadj = [0.06];

const iGoTerms = ['organic anion transport','carboxylic acid transport','organic acid transport','vascular process in\ncirculatory system','carboxylic acid biosynthetic\nprocess','organic acid biosynthetic\nprocess','sulfur compound metabolic\nprocess','amino acid metabolic\nprocess','response to toxic substance','alpha-amino acid metabolic\nprocess'];
const iGoRatio = [0.0876,0.0824,0.0824,0.0773,0.0773,0.0773,0.0721,0.067,0.0619,0.0567];
const iGoCount = [17,16,16,15,15,15,14,13,12,11];
const iGoPadj = [0.00133,0.00097,0.00097,0.0004,0.00114,0.00114,0.0025,0.0031,0.0031,0.0031];

// shared helpers

const svg = d3.select('#fig');
const minus = s => String(s).replace(/-/g, '\u2212');

function label(g, x, y, str, size, opts = {}) {
  return g.append('text')
      .attr('x', x)
      .attr('y', y)
      .attr('dy', '0.35em')
      .attr('font-size', size)
      .attr('font-weight', opts.weight || 'bold')
      .attr('fill', opts.fill || '#000')
      .attr('text-anchor', opts.anchor || 'start')
      .attr('transform', opts.rotate ? `rotate(${opts.rotate}, ${x}, ${y})` : null)
      .text(minus(str));
}

function styleAxisText(axisG, size, fill) {
  axisG.selectAll('text')
      .attr('font-family', '"Liberation Sans", Arial, sans-serif')
      .attr('font-weight', 'bold')
      .attr('font-size', size)
      .attr('fill', fill);
}

// volcano plot

const volcanoColors = { Down: '#0000ff', 'Non-Sig': '#bebebe', Up: '#ff0000' };

function volcano(cfg) {
  const g = svg.append('g');
  const x = d3.scaleLinear().domain(cfg.xDomain).range(cfg.xRange);
  const y = d3.scaleLinear().domain(cfg.yDomain).range(cfg.yRange);
  const [left, right, top, bottom] = cfg.panel;

  // grid
  g.selectAll('.minx').data(cfg.xMinor).join('line')
      .attr('x1', d => x(d)).attr('x2', d => x(d)).attr('y1', top).attr('y2', bottom)
      .attr('stroke', '#f0f0f0').attr('stroke-width', 0.8);
  g.selectAll('.maxx').data(cfg.xMajor).join('line')
      .attr('x1', d => x(d)).attr('x2', d => x(d)).attr('y1', top).attr('y2', bottom)
      .attr('stroke', '#ebebeb').attr('stroke-width', 1.2);
  g.selectAll('.miny').data(cfg.yMinor).join('line')
      .attr('y1', d => y(d)).attr('y2', d => y(d)).attr('x1', left).attr('x2', right)
      .attr('stroke', '#f0f0f0').attr('stroke-width', 0.8);
  g.selectAll('.may').data(cfg.yMajor).join('line')
      .attr('y1', d => y(d)).attr('y2', d => y(d)).attr('x1', left).attr('x2', right)
      .attr('stroke', '#ebebeb').attr('stroke-width', 1.2);

  // points
  [['Non-Sig', cfg.non], ['Down', cfg.down], ['Up', cfg.up]].forEach(([key, pts]) => {
    g.append('g').selectAll('circle').data(pts).join('circle')
        .attr('cx', d => x(d[0]))
        .attr('cy', d => y(d[1]))
        .attr('r', 2.9)
        .attr('fill', volcanoColors[key])
        .attr('fill-opacity', 0.5);
  });

  // thresholds
  [-1, 1].forEach(v => {
    g.append('line')
        .attr('x1', x(v)).attr('x2', x(v)).attr('y1', top).attr('y2', bottom)
        .attr('stroke', '#000').attr('stroke-width', 1.1).attr('stroke-dasharray', '5,4');
  });
  g.append('line')
      .attr('x1', left).attr('x2', right).attr('y1', y(cfg.pLine)).attr('y2', y(cfg.pLine))
      .attr('stroke', '#000').attr('stroke-width', 1.1).attr('stroke-dasharray', '5,4');

  // tick labels sit on their own, slightly wider scales
  const lx = d3.scaleLinear().domain(cfg.xDomain).range(cfg.xLabelRange);
  const ly = d3.scaleLinear().domain(cfg.yDomain).range(cfg.yLabelRange);
  const size = 16.5;
  const xAxis = g.append('g')
      .attr('transform', `translate(0, ${cfg.xLabelY - 0.355 * size})`)
      .call(d3.axisBottom(lx).tickValues(cfg.xTicks).tickSize(0).tickPadding(0).tickFormat(d3.format(cfg.xFormat)))
      .call(a => a.select('.domain').remove());
  styleAxisText(xAxis, size, '#4d4d4d');
  const yAxis = g.append('g')
      .attr('transform', `translate(${cfg.yLabelX}, 0)`)
      .call(d3.axisLeft(ly).tickValues(cfg.yTicks).tickSize(0).tickPadding(0))
      .call(a => a.select('.domain').remove());
  styleAxisText(yAxis, size, '#4d4d4d');

  // titles
  label(g, cfg.titleX, cfg.titleY[0], cfg.title[0], cfg.titleSize);
  label(g, cfg.titleX, cfg.titleY[1], cfg.title[1], cfg.titleSize);
  label(g, cfg.xTitle[0], cfg.xTitle[1], 'Log2 Fold Change', 16.1, { anchor: 'middle' });
  label(g, cfg.yTitle[0], cfg.yTitle[1], '-Log10 P-value', 16, { anchor: 'middle', rotate: -90 });

  // legend
  label(g, cfg.legend.x, cfg.legend.titleY, 'color', 15);
  ['Down', 'Non-Sig', 'Up'].forEach((key, i) => {
    g.append('circle')
        .attr('cx', cfg.legend.x + 11.5)
        .attr('cy', cfg.legend.ys[i])
        .attr('r', 3.3)
        .attr('fill', volcanoColors[key])
        .attr('fill-opacity', 0.5);
    label(g, cfg.legend.x + 30, cfg.legend.ys[i], key, 11.7);
  });
}

// heatmap with dendrograms

const heatColor = d3.scaleLinear().domain([-2, 0, 2]).range(['#000080', '#ffffff', '#cd2626']);
// cells read a little lighter than the bar on the blue side
const cellColor = d3.scaleLinear().domain([-2, -1, 0, 2]).range(['#000080', '#8e8ec9', '#ffffff', '#cd2626']);
const groupColor = name => (name === 'DLD1_DMSO' ? '#00dae0' : '#ff9289');

function drawTree(g, tree, leafPos, hScale, horizontal) {
  let leaf = 0;
  const paths = [];
  (function walk(n) {
    if (!n) return { p: leafPos(leaf++), h: 0 };
    const a = walk(n[1]);
    const b = walk(n[2]);
    const hn = hScale(n[0]);
    paths.push(horizontal ?
      `M${hScale(a.h)},${a.p}H${hn}V${b.p}H${hScale(b.h)}` :
      `M${a.p},${hScale(a.h)}V${hn}H${b.p}V${hScale(b.h)}`);
    return { p: (a.p + b.p) / 2, h: n[0] };
  })(tree);
  g.append('path')
      .attr('d', paths.join(''))
      .attr('fill', 'none')
      .attr('stroke', '#444')
      .attr('stroke-width', 1);
}

function heatmap(cfg) {
  const g = svg.append('g');
  const col = d3.scaleBand().domain(cfg.samples).range([cfg.left, cfg.right]);
  const row = d3.scaleBand().domain(cfg.genes).range([cfg.top, cfg.bottom]);

  // group bar
  g.append('g').selectAll('rect').data(cfg.samples).join('rect')
      .attr('x', d => col(d))
      .attr('y', cfg.barTop)
      .attr('width', col.bandwidth())
      .attr('height', cfg.barBottom - cfg.barTop)
      .attr('fill', (d, i) => groupColor(cfg.groups[i]))
      .attr('stroke', '#999')
      .attr('stroke-width', 0.7);
  label(g, cfg.labelX, (cfg.barTop + cfg.barBottom) / 2, 'Group', 10);

  // cells
  const cells = cfg.genes.flatMap((gene, r) => cfg.samples.map((s, c) => ({ gene, s, v: cfg.values[r][c] })));
  g.append('g').selectAll('rect').data(cells).join('rect')
      .attr('x', d => col(d.s))
      .attr('y', d => row(d.gene))
      .attr('width', col.bandwidth())
      .attr('height', row.bandwidth())
      .attr('fill', d => cellColor(d.v))
      .attr('stroke', '#999')
      .attr('stroke-width', 0.7);

  // row and column labels
  cfg.genes.forEach(gene => label(g, cfg.labelX, row(gene) + row.bandwidth() / 2 + 1, gene, 9.8));
  cfg.samples.forEach(s => label(g, col(s) + col.bandwidth() / 2, cfg.bottom + 3.5, s, 9.5, { rotate: 90 }));

  // dendrograms
  drawTree(g, cfg.rowTree, i => row(cfg.genes[i]) + row.bandwidth() / 2,
    d3.scaleLinear().domain([0, cfg.rowTree[0]]).range([cfg.left, cfg.rowRootX]), true);
  drawTree(g, cfg.colTree, i => col(cfg.samples[i]) + col.bandwidth() / 2,
    d3.scaleLinear().domain([0, cfg.colTree[0]]).range([cfg.colBase, cfg.colRootY]), false);

  label(g, cfg.titleX, cfg.titleY, cfg.title, 12.5, { anchor: 'middle' });

  // colour bar
  const [bx0, bx1, by0, by1] = cfg.bar;
  const by = d3.scaleLinear().domain([2, -2]).range([by0, by1]);
  g.append('g').selectAll('rect').data(d3.range(-2, 2, 0.08)).join('rect')
      .attr('x', bx0)
      .attr('y', d => by(d + 0.08))
      .attr('width', bx1 - bx0)
      .attr('height', (by1 - by0) / 50 + 0.5)
      .attr('fill', d => heatColor(d + 0.04));
  [2, 1, 0, -1, -2].forEach(v => label(g, bx1 + 4, by(v) + cfg.barLabelShift * Math.sign(v), v, 10));

  // group legend
  const [lx, ly] = cfg.legend;
  label(g, lx, ly, 'Group', 10);
  cfg.legendNames.forEach((name, i) => {
    g.append('rect')
        .attr('x', lx)
        .attr('y', ly + 6.7 + 14 * i)
        .attr('width', 15)
        .attr('height', 14)
        .attr('fill', groupColor(name))
        .attr('stroke', '#999')
        .attr('stroke-width', 0.7);
    label(g, lx + 17, ly + 13.7 + 14 * i, name, 10);
  });
}

// enrichment dot plot

function dotplot(cfg) {
  const g = svg.append('g');
  const [left, right, top, bottom] = cfg.panel;
  const x = d3.scaleLinear().domain(cfg.xDomain).range(cfg.xRange);
  const y = d3.scalePoint().domain(cfg.terms).range(cfg.yRange);
  const color = d3.scaleLinear().domain(cfg.colorDomain).range(['red', 'blue']).interpolate(d3.interpolateLab);
  // ggplot area scale
  const size = c => cfg.cRange[1] === cfg.cRange[0] ? cfg.rRange[1] :
    cfg.rRange[0] + (cfg.rRange[1] - cfg.rRange[0]) * Math.sqrt((c - cfg.cRange[0]) / (cfg.cRange[1] - cfg.cRange[0]));

  // grid
  g.selectAll('.mn').data(cfg.xMinor).join('line')
      .attr('x1', d => x(d)).attr('x2', d => x(d)).attr('y1', top).attr('y2', bottom)
      .attr('stroke', '#f2f2f2').attr('stroke-width', 0.7);
  g.selectAll('.mj').data(cfg.xTicks).join('line')
      .attr('x1', d => x(d)).attr('x2', d => x(d)).attr('y1', top).attr('y2', bottom)
      .attr('stroke', '#ebebeb').attr('stroke-width', 1);
  g.selectAll('.hz').data(cfg.terms).join('line')
      .attr('x1', left).attr('x2', right).attr('y1', d => y(d)).attr('y2', d => y(d))
      .attr('stroke', '#ebebeb').attr('stroke-width', 1);

  // dots
  g.append('g').selectAll('circle').data(cfg.terms).join('circle')
      .attr('cx', (d, i) => x(cfg.ratio[i]))
      .attr('cy', d => y(d))
      .attr('r', (d, i) => size(cfg.count[i]))
      .attr('fill', (d, i) => color(cfg.padj[i]));

  g.append('rect')
      .attr('x', left).attr('y', top).attr('width', right - left).attr('height', bottom - top)
      .attr('fill', 'none').attr('stroke', '#555').attr('stroke-width', 1.3);

  // axes
  const xAxis = g.append('g')
      .attr('transform', `translate(0, ${bottom})`)
      .call(d3.axisBottom(x).tickValues(cfg.xTicks).tickSize(2.5).tickPadding(2).tickFormat(d3.format(cfg.xFormat)))
      .call(a => a.select('.domain').remove());
  styleAxisText(xAxis, cfg.fs.tick, '#000');
  g.append('g')
      .attr('transform', `translate(${left}, 0)`)
      .call(d3.axisLeft(y).tickSize(2.5).tickFormat(''))
      .call(a => a.select('.domain').remove());
  label(g, cfg.xTitle[0], cfg.xTitle[1], 'GeneRatio', cfg.fs.tick);

  // term labels
  cfg.terms.forEach(term => {
    const lines = term.split('\n');
    lines.forEach((line, i) => {
      const offset = (i - (lines.length - 1) / 2) * cfg.fs.lead + 1;
      label(g, cfg.termX, y(term) + offset, line, cfg.fs.term, { anchor: 'end' });
    });
  });

  if (cfg.heading) label(g, cfg.heading[0], cfg.heading[1], cfg.heading[2], 20, { anchor: 'middle', weight: 'normal' });
  label(g, cfg.subtitle[0], cfg.subtitle[1], cfg.subtitle[2], cfg.fs.sub, { anchor: 'middle' });

  // count legend
  const lg = cfg.legend;
  label(g, lg.x, lg.countY, 'Count', cfg.fs.leg);
  lg.counts.forEach((c, i) => {
    g.append('circle')
        .attr('cx', lg.dotX)
        .attr('cy', lg.dotYs[i])
        .attr('r', size(c))
        .attr('fill', '#000');
    label(g, lg.countLabelX, lg.dotYs[i], d3.format(lg.countFormat)(c), cfg.fs.legTick);
  });

  // p.adjust legend
  label(g, lg.x, lg.padjY, 'p.adjust', cfg.fs.leg);
  const by = d3.scaleLinear().domain(cfg.colorDomain).range([lg.barBottom, lg.barTop]);
  const steps = d3.range(0, 60);
  const span = cfg.colorDomain[1] - cfg.colorDomain[0];
  g.append('g').selectAll('rect').data(steps).join('rect')
      .attr('x', lg.x)
      .attr('y', d => by(cfg.colorDomain[0] + span * (d + 1) / 60))
      .attr('width', lg.barW)
      .attr('height', (lg.barBottom - lg.barTop) / 60 + 0.5)
      .attr('fill', d => lg.barColor || color(cfg.colorDomain[0] + span * (d + 0.5) / 60));
  lg.barTicks.forEach(t => {
    g.append('line')
        .attr('x1', lg.x).attr('x2', lg.x + 3).attr('y1', by(t)).attr('y2', by(t))
        .attr('stroke', '#fff').attr('stroke-width', 0.6);
    g.append('line')
        .attr('x1', lg.x + lg.barW - 3).attr('x2', lg.x + lg.barW).attr('y1', by(t)).attr('y2', by(t))
        .attr('stroke', '#fff').attr('stroke-width', 0.6);
    label(g, lg.barLabelX, by(t), d3.format(lg.barFormat)(t), cfg.fs.legTick);
  });
}

// panels A, D, G

volcano({
  down: [...aDown, ...aDownCore], up: [...aUp, ...aUpCore], non: [...aNon, ...aNonCore],
  panel: [72, 364, 122, 388],
  xDomain: [-10, 10], xRange: [85.7, 350.7], xLabelRange: [79, 359],
  yDomain: [0, 90], yRange: [376.7, 172], yLabelRange: [382, 167],
  xMajor: [-10, -5, 0, 5, 10], xMinor: [-7.5, -2.5, 2.5, 7.5],
  yMajor: [0, 30, 60, 90], yMinor: [15, 45, 75, 105],
  xTicks: [-10, -5, 0, 5, 10], yTicks: [0, 30, 60, 90], xFormat: 'd', pLine: 1.3,
  xLabelY: 405.7, yLabelX: 60,
  title: ['DLD1_Oxa vs DMSO', 'Up: 840 genes, Down: 526 genes'], titleX: 62, titleY: [81, 99.3], titleSize: 16.7,
  xTitle: [228, 421.7], yTitle: [30.7, 246],
  legend: { x: 392, titleY: 220, ys: [244, 266, 288.7] }
});

volcano({
  down: dDown, up: dUp, non: [...dNon, ...dNonCore],
  panel: [70, 375, 625, 901.7],
  xDomain: [-5, 5], xRange: [116.7, 375], xLabelRange: [112.3, 380.7],
  yDomain: [0, 15], yRange: [889.3, 660], yLabelRange: [896.7, 659.3],
  xMajor: [-5, -2.5, 0, 2.5, 5], xMinor: [-6.25, -3.75, -1.25, 1.25, 3.75],
  yMajor: [0, 5, 10, 15], yMinor: [2.5, 7.5, 12.5],
  xTicks: [-5, -2.5, 0, 2.5, 5], yTicks: [0, 5, 10, 15], xFormat: '.1f', pLine: 1.3,
  xLabelY: 922.3, yLabelX: 56.7,
  title: ['DLD1_PRImet vs DMSO', 'Up: 45 genes, Down: 69 genes'], titleX: 64, titleY: [586, 605], titleSize: 17.3,
  xTitle: [222.7, 941], yTitle: [26.7, 765.8],
  legend: { x: 397.7, titleY: 728, ys: [753.3, 776.7, 800] }
});

volcano({
  down: [...gDown, ...gDownCore], up: [...gUp, ...gUpCore], non: [...gNon, ...gNonCore],
  panel: [71, 383.3, 1286.7, 1576.7],
  xDomain: [-4, 4], xRange: [138.7, 309.3], xLabelRange: [139, 308.7],
  yDomain: [0, 120], yRange: [1563.3, 1292.7], yLabelRange: [1563.3, 1296],
  xMajor: [-4, 0, 4], xMinor: [-6, -2, 2, 6],
  yMajor: [0, 30, 60, 90, 120], yMinor: [15, 45, 75, 105],
  xTicks: [-4, 0, 4], yTicks: [0, 30, 60, 90, 120], xFormat: 'd', pLine: 1,
  xLabelY: 1589.3, yLabelX: 66,
  title: ['DLD1_Combi vs DMSO', 'Up: 313 genes, Down: 263 genes'], titleX: 73.3, titleY: [1252.7, 1272.3], titleSize: 17.3,
  xTitle: [226.7, 1607.7], yTitle: [26.7, 1432.8],
  legend: { x: 397.7, titleY: 1395, ys: [1420, 1443.3, 1466.7] }
});

// panels B, E, H

heatmap({
  genes: bGenes, samples: bSamples, values: bValues, groups: bGroups, rowTree: bRowTree, colTree: bColTree,
  left: 533, right: 847.3, top: 99.3, bottom: 503.3, barTop: 86.7, barBottom: 96.7,
  labelX: 850, rowRootX: 482.3, colBase: 85.3, colRootY: 35,
  title: 'DLD1_Oxa vs DMSO', titleX: 675.7, titleY: 26.7,
  bar: [929, 939, 86, 231.7], barLabelShift: 1.2,
  legend: [957, 90], legendNames: ['DLD1_DMSO', 'DLD1_Oxa']
});

heatmap({
  genes: eGenes, samples: eSamples, values: eValues, groups: eGroups, rowTree: eRowTree, colTree: eColTree,
  left: 536.9, right: 834.2, top: 674, bottom: 1081.7, barTop: 661, barBottom: 670.7,
  labelX: 837, rowRootX: 484.7, colBase: 660, colRootY: 608.3,
  title: 'DLD1_PRImet vs DMSO', titleX: 673, titleY: 599,
  bar: [935.4, 945.3, 660, 808], barLabelShift: 1.2,
  legend: [964, 664], legendNames: ['DLD1_DMSO', 'DLD1_PRImet']
});

heatmap({
  genes: hGenes, samples: hSamples, values: hValues, groups: hGroups, rowTree: hRowTree, colTree: hColTree,
  left: 531, right: 842.5, top: 1291.7, bottom: 1684.7, barTop: 1279, barBottom: 1288.7,
  labelX: 845.7, rowRootX: 480.7, colBase: 1278.3, colRootY: 1227.7,
  title: 'DLD1_Combi vs DMSO', titleX: 675, titleY: 1219,
  bar: [923.6, 933.5, 1278, 1421.7], barLabelShift: 1.2,
  legend: [951, 1281.7], legendNames: ['DLD1_DMSO', 'DLD1_Combi']
});

// panels C, F, I

dotplot({
  terms: cGoTerms, ratio: cGoRatio, count: cGoCount, padj: cGoPadj,
  panel: [1209, 1470.7, 95.7, 416.7],
  xDomain: [0.02, 0.07], xRange: [1244.3, 1455.8], yRange: [114.3, 397.7],
  xTicks: [0.02, 0.03, 0.04, 0.05, 0.06, 0.07], xMinor: [0.025, 0.035, 0.045, 0.055, 0.065], xFormat: '.2f',
  colorDomain: [0.00007, 0.00238], cRange: [6, 29], rRange: [3.3, 7.7],
  termX: 1206, xTitle: [1315.5, 436.7],
  heading: [1334, 61.7, 'GO (Down)'], subtitle: [1334, 84.3, 'DLD1_Oxa vs DMSO Top 10 ALL GO - Down'],
  fs: { tick: 10, term: 12, lead: 13, sub: 12, leg: 10.5, legTick: 8.5 },
  legend: {
    x: 1485, countY: 167.7, dotX: 1494.3, dotYs: [184, 199.3, 215, 232.7], countLabelX: 1508.5, counts: [10, 15, 20, 25], countFormat: 'd',
    padjY: 266, barTop: 274, barBottom: 349, barW: 15.5, barLabelX: 1504.5, barTicks: [0.002, 0.0015, 0.001, 0.0005], barFormat: '.4f'
  }
});

dotplot({
  terms: cKeggTerms, ratio: cKeggRatio, count: cKeggCount, padj: cKeggPadj,
  panel: [1724, 1995, 99.3, 419],
  xDomain: [0.035, 0.05], xRange: [1758.5, 1979.5], yRange: [159.3, 359.3],
  xTicks: [0.035, 0.04, 0.045, 0.05], xMinor: [0.0375, 0.0425, 0.0475], xFormat: '.3f',
  colorDomain: [0.0015, 0.0231], cRange: [8, 12], rRange: [3.4, 7.8],
  termX: 1718, xTitle: [1835, 439.3],
  heading: [1852.4, 66, 'KEGG (Down)'], subtitle: [1845.7, 88.3, 'DLD1_Oxa vs DMSO Top 10 KEGG - Down'],
  fs: { tick: 10, term: 12, lead: 14.3, sub: 12, leg: 10.5, legTick: 8.5 },
  legend: {
    x: 2009, countY: 162.7, dotX: 2019.3, dotYs: [179, 193.7, 209, 226, 245], countLabelX: 2035, counts: [8, 9, 10, 11, 12], countFormat: 'd',
    padjY: 278.3, barTop: 286.3, barBottom: 361, barW: 16, barLabelX: 2029, barTicks: [0.02, 0.015, 0.01, 0.005], barFormat: '.3f'
  }
});

dotplot({
  terms: fGoTerms, ratio: fGoRatio, count: fGoCount, padj: fGoPadj,
  panel: [1201, 1502.4, 677.3, 1034.3],
  xDomain: [0.07, 0.1], xRange: [1231.5, 1474.7], yRange: [707, 1005],
  xTicks: [0.07, 0.08, 0.09, 0.1], xMinor: [0.075, 0.085, 0.095], xFormat: '.2f',
  colorDomain: [0.0454, 0.0793], cRange: [4, 6], rRange: [3.6, 8.8],
  termX: 1194, xTitle: [1323, 1057.3],
  heading: [1341, 641.7, 'GO (Down)'], subtitle: [1352, 665, 'DLD1_PRImet vs DMSO Top 10 ALL GO - Down'],
  fs: { tick: 11.3, term: 13.2, lead: 14.5, sub: 13.3, leg: 11.5, legTick: 9.5 },
  legend: {
    x: 1518, countY: 747.7, dotX: 1528.8, dotYs: [766, 782.7, 800, 819, 839.3], countLabelX: 1545, counts: [4, 4.5, 5, 5.5, 6], countFormat: '.1f',
    padjY: 876.7, barTop: 886.7, barBottom: 969.3, barW: 16.7, barLabelX: 1540, barTicks: [0.07, 0.06, 0.05], barFormat: '.2f'
  }
});

dotplot({
  terms: fKeggTerms, ratio: fKeggRatio, count: fKeggCount, padj: fKeggPadj,
  panel: [1690, 2024, 680, 1036.7],
  xDomain: [0.075, 0.15], xRange: [1761.2, 2012.6], yRange: [858.3, 858.3],
  xTicks: [0.075, 0.1, 0.125, 0.15], xMinor: [0.0625, 0.0875, 0.1125, 0.1375], xFormat: '.3f',
  colorDomain: [0.04, 0.08], cRange: [3, 3], rRange: [7.4, 7.4],
  termX: 1689, xTitle: [1829, 1060],
  heading: [1863, 643, 'KEGG (Down)'], subtitle: [1836, 667.7, 'DLD1_PRImet vs DMSO Top 10 KEGG - Down'],
  fs: { tick: 11.3, term: 13.5, lead: 14.7, sub: 13.3, leg: 10.2, legTick: 9.5 },
  legend: {
    x: 2040, countY: 788.3, dotX: 2048.4, dotYs: [806.7], countLabelX: 2062.6, counts: [3], countFormat: 'd',
    padjY: 842.3, barTop: 851.7, barBottom: 934.3, barW: 16, barLabelX: 2060, barTicks: [0.06], barFormat: '.2f', barColor: '#c40a8e'
  }
});

dotplot({
  terms: iGoTerms, ratio: iGoRatio, count: iGoCount, padj: iGoPadj,
  panel: [1283.2, 1532.5, 1228.7, 1530.7],
  xDomain: [0.06, 0.08], xRange: [1318.2, 1465.4], yRange: [1246.7, 1513.3],
  xTicks: [0.06, 0.07, 0.08], xMinor: [0.065, 0.075, 0.085], xFormat: '.2f',
  colorDomain: [0.00036, 0.00314], cRange: [11, 17], rRange: [3, 7.2],
  termX: 1276, xTitle: [1385, 1550.3],
  subtitle: [1414, 1217.7, 'DLD1_Combi vs DMSO Top 10 ALL GO - Down'],
  fs: { tick: 9.5, term: 12.5, lead: 12.5, sub: 12.5, leg: 9.5, legTick: 8.5 },
  legend: {
    x: 1546, countY: 1273, dotX: 1555, dotYs: [1288.3, 1302.7, 1316.7, 1331, 1346.7, 1363.3, 1381.3], countLabelX: 1569, counts: [11, 12, 13, 14, 15, 16, 17], countFormat: 'd',
    padjY: 1413.3, barTop: 1421.7, barBottom: 1491, barW: 14, barLabelX: 1564, barTicks: [0.003, 0.002, 0.001], barFormat: '.3f'
  }
});

// panel letters

const letters = [['A', 2, 14], ['B', 443, 14], ['C', 1030, 14], ['D', 2, 571], ['E', 447, 571], ['F', 1065, 571], ['G', 2, 1174], ['H', 439, 1174], ['I', 1097, 1174]];
letters.forEach(([s, x, y]) => label(svg, x, y, s, 23, { weight: 'normal' }));
</script>
</body>
</html>
